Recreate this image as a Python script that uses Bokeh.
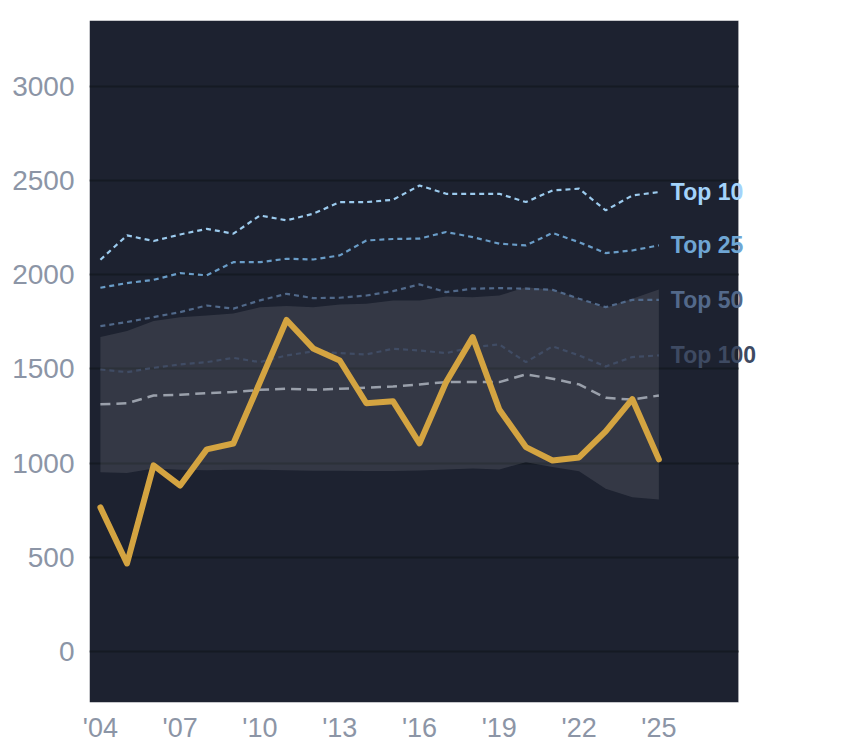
from bokeh.plotting import figure
from bokeh.models import BoxAnnotation, ColumnDataSource, FixedTicker, Label, Range1d
from bokeh.embed import file_html
from bokeh.resources import INLINE

years = list(range(2004, 2026))

gold = [765, 467, 988, 881, 1073, 1104, 1430, 1760, 1609, 1545, 1318, 1329,
        1105, 1430, 1669, 1285, 1085, 1014, 1030, 1168, 1340, 1020]

band_upper = [1669, 1701, 1754, 1775, 1784, 1795, 1827, 1834, 1828, 1842, 1846, 1864,
              1864, 1885, 1881, 1890, 1934, 1920, 1873, 1825, 1873, 1922]
band_lower = [952, 947, 972, 965, 962, 965, 965, 962, 960, 960, 958, 958,
              961, 966, 972, 966, 1005, 979, 957, 864, 819, 807]

top10 = [2080, 2209, 2179, 2214, 2244, 2218, 2315, 2289, 2324, 2386, 2386, 2398,
         2474, 2430, 2430, 2430, 2386, 2448, 2457, 2342, 2421, 2439]
top25 = [1931, 1956, 1973, 2009, 1997, 2067, 2067, 2085, 2081, 2103, 2182, 2190,
         2192, 2227, 2200, 2165, 2156, 2222, 2173, 2115, 2129, 2156]
top50 = [1727, 1749, 1775, 1802, 1837, 1820, 1864, 1899, 1876, 1878, 1890, 1913,
         1949, 1908, 1926, 1929, 1926, 1920, 1873, 1828, 1867, 1867]
top100 = [1497, 1483, 1506, 1524, 1536, 1559, 1536, 1572, 1593, 1584, 1577, 1607,
          1598, 1584, 1616, 1630, 1536, 1620, 1572, 1513, 1563, 1572]
median = [1312, 1318, 1359, 1363, 1372, 1377, 1389, 1395, 1389, 1395, 1400, 1407,
          1418, 1430, 1430, 1430, 1471, 1448, 1418, 1347, 1337, 1359]

x_ticks = [2004, 2007, 2010, 2013, 2016, 2019, 2022, 2025]
x_tick_labels = ["'04", "'07", "'10", "'13", "'16", "'19", "'22", "'25"]
y_ticks = [0, 500, 1000, 1500, 2000, 2500, 3000]

tier_names = ["Top 10", "Top 25", "Top 50", "Top 100"]
tier_series = [top10, top25, top50, top100]
tier_colors = ["#9ccbee", "#6a9dc8", "#51698a", "#404c64"]
label_colors = ["#a3d3fb", "#6fa6d4", "#53698a", "#3e4a62"]

# dark panel ends at x = 2028.0; the frame extends further (white) so
# that the end labels can overflow the dark panel as in the original
X_START, X_PANEL_END, X_FRAME_END = 2003.59, 2028.0, 2031.68
PANEL = "#1d2230"

p = figure(frame_width=747, frame_height=682, output_backend="svg",
           toolbar_location=None, x_range=Range1d(X_START, X_FRAME_END),
           y_range=Range1d(-271, 3350),
           min_border_left=89, min_border_right=0, min_border_top=20,
           min_border_bottom=44)

p.background_fill_color = "white"
p.border_fill_color = "white"
p.outline_line_color = None

panel = BoxAnnotation(right=X_PANEL_END, fill_color=PANEL, fill_alpha=1.0,
                      line_color=None, level="underlay")
p.center = [panel] + list(p.center)

src = ColumnDataSource(dict(year=years, gold=gold, lo=band_lower, hi=band_upper,
                            median=median))

p.varea(x="year", y1="lo", y2="hi", source=src, fill_color="#ffffff", fill_alpha=0.1)

for name, series, col in zip(tier_names, tier_series, tier_colors):
    p.line(years, series, line_color=col, line_width=2.2, line_dash="5 4")

p.line(x="year", y="median", source=src, line_color="#9aa0ab", line_width=2.5,
       line_dash="10 6")

p.line(x="year", y="gold", source=src, line_color="#d4a441", line_width=6,
       line_join="round", line_cap="round")

# hide grid lines outside the dark panel
p.add_layout(BoxAnnotation(left=X_PANEL_END, fill_color="white", fill_alpha=1.0,
                           line_color=None))

for name, series, col in zip(tier_names, tier_series, label_colors):
    p.add_layout(Label(x=years[-1], y=series[-1], text=name, x_offset=12,
                       text_baseline="middle", text_align="left", text_color=col,
                       text_font="Liberation Sans", text_font_style="bold",
                       text_font_size="23px"))

p.xaxis.ticker = FixedTicker(ticks=x_ticks)
p.xaxis.major_label_overrides = {t: l for t, l in zip(x_ticks, x_tick_labels)}
p.yaxis.ticker = FixedTicker(ticks=y_ticks)

for ax in (p.xaxis, p.yaxis):
    ax.axis_line_color = None
    ax.major_tick_line_color = None
    ax.minor_tick_line_color = None
    ax.major_label_text_color = "#8c95a6"
    ax.major_label_text_font = "Liberation Sans"
p.xaxis.major_label_text_font_size = "27px"
p.yaxis.major_label_text_font_size = "28px"
p.xaxis.major_label_standoff = 4
p.yaxis.major_label_standoff = 9

p.xgrid.grid_line_color = None
p.ygrid.grid_line_color = "#151a23"
p.ygrid.grid_line_width = 2

open("out.html", "w").write(file_html(p, INLINE))
